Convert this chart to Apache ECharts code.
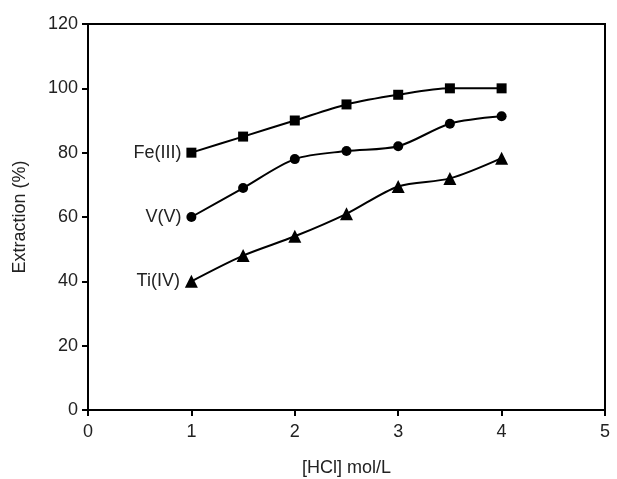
<!DOCTYPE html>
<html>
<head>
<meta charset="utf-8">
<script src="https://cdn.jsdelivr.net/npm/echarts@6/dist/echarts.min.js"></script>
<style>
    html, body { margin: 0; padding: 0; background: #fff; }
    #chart { width: 617px; height: 479px; }
</style>
</head>
<body>
<div id="chart"></div>
<script>
// 数据
const hcl = [1, 1.5, 2, 2.5, 3, 3.5, 4]
const feIII = [80, 85, 90, 95, 98, 100, 100]
const vV = [60, 69, 78, 80.5, 82, 89, 91.3]
const tiIV = [40, 48, 54, 61, 69.5, 72, 78.3]
const seriesNames = ['Fe(III)', 'V(V)', 'Ti(IV)']
const symbols = ['rect', 'circle', 'triangle']
const symbolSizes = [10, 10, 13]

const font = 'Liberation Sans, Arial, sans-serif'
const ink = '#222'
const fs = 18

function buildSeries (name, values, idx) {
    return {
        name: name,
        type: 'line',
        smooth: 0.3,
        symbol: symbols[idx],
        symbolSize: symbolSizes[idx],
        lineStyle: { color: '#000', width: 2 },
        itemStyle: { color: '#000' },
        data: values.map((v, i) => {
            let p = { value: [hcl[i], v] }
            // 第一个点左侧显示系列名称
            if (i === 0) {
                p.label = {
                    show: true,
                    position: 'left',
                    distance: 5,
                    formatter: name,
                    color: ink,
                    fontSize: fs,
                    fontFamily: font
                }
            }
            return p
        })
    }
}

let myChart = echarts.init(document.getElementById('chart'))
myChart.setOption({
    animation: false,
    grid: {
        left: 88,
        right: 12,
        top: 24,
        bottom: 69,
        containLabel: false,
        outerBoundsMode: 'none', // v6 默认会把标签挤进容器，这里关掉
        show: true,
        borderColor: '#000',
        borderWidth: 2
    },
    xAxis: {
        type: 'value',
        min: 0,
        max: 5,
        interval: 1,
        name: '[HCl] mol/L',
        nameLocation: 'middle',
        nameGap: 49,
        nameTextStyle: { color: ink, fontSize: fs, fontFamily: font },
        axisLine: { show: true, lineStyle: { color: '#000', width: 2 } },
        axisTick: { show: true, length: 6, lineStyle: { color: '#000', width: 2 } },
        axisLabel: { color: ink, fontSize: fs, fontFamily: font, margin: 13 },
        splitLine: { show: false }
    },
    yAxis: {
        type: 'value',
        min: 0,
        max: 120,
        interval: 20,
        name: 'Extraction (%)',
        nameLocation: 'middle',
        nameGap: 59,
        nameTextStyle: { color: ink, fontSize: fs, fontFamily: font },
        axisLine: { show: true, lineStyle: { color: '#000', width: 2 } },
        axisTick: { show: true, length: 6, lineStyle: { color: '#000', width: 2 } },
        axisLabel: { color: ink, fontSize: fs, fontFamily: font, margin: 10 },
        splitLine: { show: false }
    },
    series: [
        buildSeries(seriesNames[0], feIII, 0),
        buildSeries(seriesNames[1], vV, 1),
        buildSeries(seriesNames[2], tiIV, 2)
    ]
})
</script>
</body>
</html>
